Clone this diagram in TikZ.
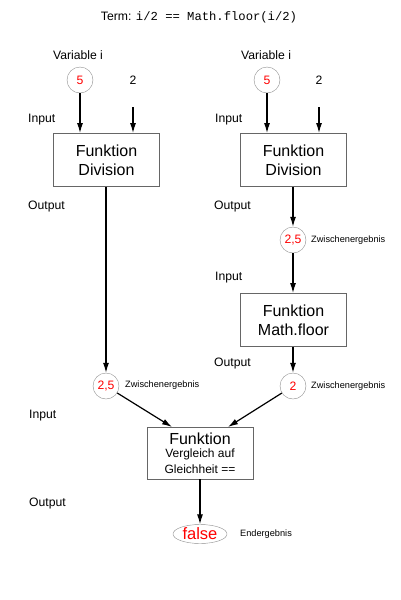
\documentclass[tikz,border=0pt]{standalone}
\usepackage{fontspec}
\setmainfont{Liberation Sans}
\setmonofont{Liberation Mono}
\usetikzlibrary{arrows.meta,shapes.geometric}
\begin{document}
\begin{tikzpicture}[x=1pt,y=-1pt,
  lbl/.style={font=\fontsize{12.2}{14}\selectfont, inner sep=0},
  small/.style={font=\fontsize{9.2}{11}\selectfont, inner sep=0, anchor=west},
  val/.style={circle, draw=black!45, minimum size=26pt, inner sep=0, text=red, font=\fontsize{12.2}{14}\selectfont},
  fbox/.style={draw=black!60, line width=0.9pt, minimum width=106pt, minimum height=53pt, align=center, font=\fontsize{16}{19}\selectfont, inner sep=0},
  arr/.style={-{Latex[length=10pt,width=6pt]}, line width=1.2pt}]
\useasboundingbox (0,0) rectangle (400,600);
\node[lbl] (title) at (199,17) {Term: \texttt{i/2 == Math.floor(i/2)}};
% left column
\node[lbl] (lvar) at (78,55) {Variable i};
\node[val] (l5) at (80,80) {5};
\node[lbl] (l2) at (133,80) {2};
\coordinate (l2s) at (133,107);
\node[lbl, anchor=west] (lin) at (28,120) {Input};
\node[fbox] (ldiv) at (106.5,160) {Funktion\\Division};
\node[lbl, anchor=west] (lout) at (28,207) {Output};
\node[val] (l25) at (106,386) {2,5};
\node[small] (lz) at (125,385) {Zwischenergebnis};
\draw[arr] (l5) -- (l5 |- ldiv.north);
\draw[arr] (l2s) -- (l2s |- ldiv.north);
\draw[arr] (ldiv.south -| l25) -- (l25);
% right column
\node[lbl] (rvar) at (266,55) {Variable i};
\node[val] (r5) at (267,80) {5};
\node[lbl] (r2) at (319,80) {2};
\coordinate (r2s) at (319,107);
\node[lbl, anchor=west] (rin) at (215,120) {Input};
\node[fbox] (rdiv) at (293.5,160) {Funktion\\Division};
\node[lbl, anchor=west] (rout) at (214,207) {Output};
\node[val] (r25) at (293,240) {2,5};
\node[small] (rz1) at (311,240) {Zwischenergebnis};
\node[lbl, anchor=west] (rin2) at (215,278) {Input};
\node[fbox] (floor) at (293.5,320) {Funktion\\Math.floor};
\node[lbl, anchor=west] (rout2) at (214,364) {Output};
\node[val] (r2v) at (293,386) {2};
\node[small] (rz2) at (311,386) {Zwischenergebnis};
\draw[arr] (r5) -- (r5 |- rdiv.north);
\draw[arr] (r2s) -- (r2s |- rdiv.north);
\draw[arr] (rdiv.south -| r25) -- (r25);
\draw[arr] (r25) -- (r25 |- floor.north);
\draw[arr] (floor.south -| r2v) -- (r2v);
% comparison
\node[lbl, anchor=west] (bin) at (29,416) {Input};
\node[draw=black!60, line width=0.9pt, minimum width=106pt, minimum height=52pt, inner sep=0] (cmp) at (200,453) {};
\node[font=\fontsize{16}{18}\selectfont, inner sep=0] (cmpt1) at (200,439) {Funktion};
\node[font=\fontsize{12}{14}\selectfont, inner sep=0] (cmpt2) at (200,454.5) {Vergleich auf};
\node[font=\fontsize{12}{14}\selectfont, inner sep=0] (cmpt3) at (200,469.5) {Gleichheit ==};
\coordinate (cl) at (172,427);
\coordinate (cr) at (228,427);
\draw[arr] (l25) -- (cl);
\draw[arr] (r2v) -- (cr);
\node[lbl, anchor=west] (bout) at (29,503) {Output};
\node[ellipse, draw=black!45, minimum width=54pt, minimum height=19pt, inner sep=0, text=red, font=\fontsize{16.5}{18}\selectfont] (res) at (200,534) {false};
\node[small] (end) at (240,534) {Endergebnis};
\draw[arr] (cmp) -- (res);
\end{tikzpicture}
\end{document}
